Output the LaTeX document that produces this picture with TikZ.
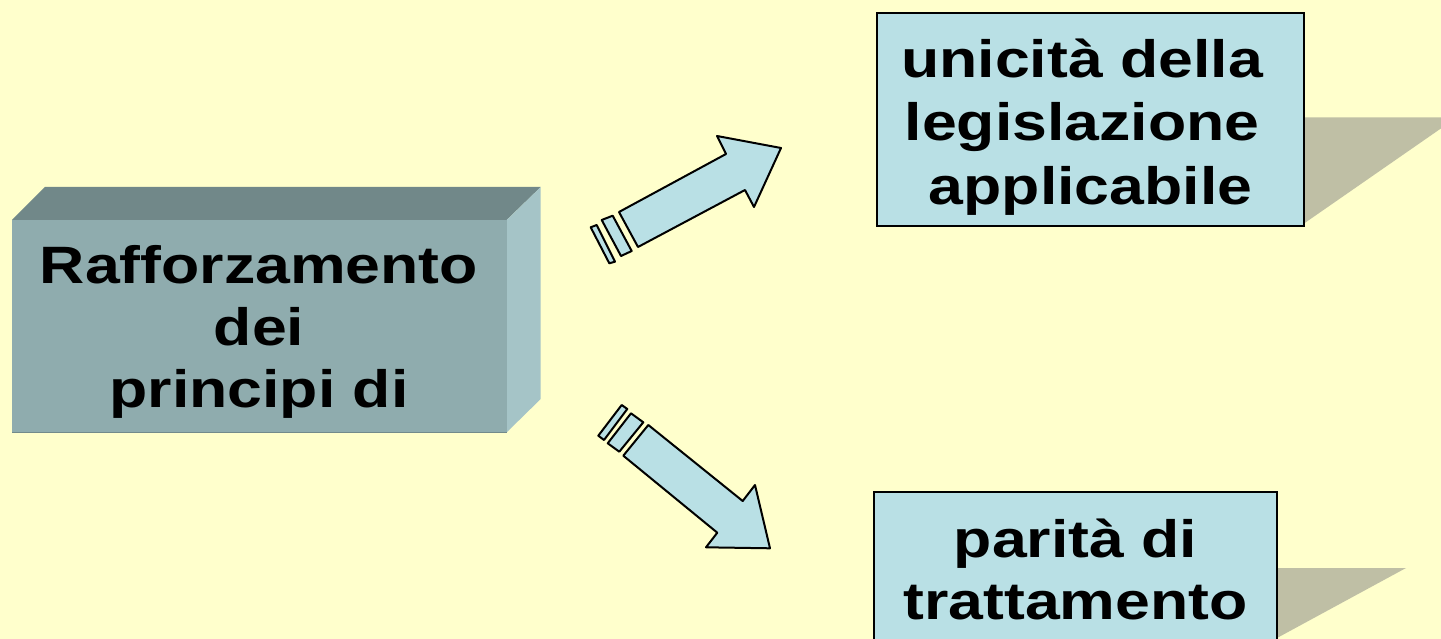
\documentclass[tikz,border=0pt]{standalone}
\usepackage{fontspec}
\newfontfamily\arialx[FakeStretch=1.19]{Liberation Sans}
\definecolor{bg}{HTML}{FFFFCC}
\definecolor{lblue}{HTML}{B9E0E5}
\definecolor{shade}{HTML}{BFBFA5}
\definecolor{frontc}{HTML}{8FACAE}
\definecolor{topc}{HTML}{718889}
\definecolor{sidec}{HTML}{A5C4C7}
\tikzset{
  txt/.style={font=\arialx\bfseries\fontsize{52.6}{62}\selectfont, align=center, inner sep=0pt, text=black},
  bluebox/.style={draw=black, line width=2pt, fill=lblue, inner sep=0pt},
  blockarrow/.style={draw=black, line width=2pt, line join=round, fill=lblue},
  shadowshape/.style={fill=shade, draw=none},
}
\begin{document}
\begin{tikzpicture}[x=1pt,y=-1pt]
\useasboundingbox (0,0) rectangle (1441,639);
\clip (0,0) rectangle (1441,639);
\fill[bg] (0,0) rectangle (1441,639);
% left 3D box
\fill[topc] (12,220) -- (45,187) -- (540.7,187) -- (506.7,220) -- cycle;
\fill[sidec] (506.7,220) -- (540.7,187) -- (540.7,399) -- (506.7,432.3) -- cycle;
\fill[frontc] (12,220) rectangle (506.7,432.3);
\draw[line width=1pt, color=black!20!frontc] (12,432) -- (506.7,432);
\node[txt] (src) at (259,331.7) {Rafforzamento\\dei\\principi di};
% shadows
\fill[shadowshape] (1304,117.3) -- (1457,117.3) -- (1304,223.5) -- cycle;
\fill[shadowshape] (1277,568) -- (1406,568) -- (1277,638) -- (1277,660) -- cycle;
% target boxes
\node[bluebox, txt, font=\arialx\bfseries\fontsize{52.6}{63.5}\selectfont, minimum width=427pt, minimum height=213pt] (uni) at (1090.5,119.2)
  {\rule{0pt}{54pt}unicità della\rule{17pt}{0pt}\\legislazione\rule{17pt}{0pt}\\applicabile};
\node[bluebox, txt, minimum width=403pt, minimum height=153.4pt] (par) at (1075.5,569)
  {parità di\\trattamento};
% upper arrow
\draw[blockarrow] (638,247) -- (745,190) -- (754,207) -- (781,148) -- (717,136) -- (726,154) -- (619,212) -- cycle;
\draw[blockarrow] (601.7,220) -- (612.7,215.7) -- (631.7,251) -- (621,256) -- cycle;
\draw[blockarrow] (590.7,227.3) -- (596.7,225) -- (615,261.7) -- (609.3,263.3) -- cycle;
% lower arrow
\draw[blockarrow] (648.3,425) -- (742.7,501) -- (755,485) -- (770,548.3) -- (706,547.3) -- (717.3,532.7) -- (623.3,455.7) -- cycle;
\draw[blockarrow] (631,413.3) -- (643.3,422.3) -- (619.3,451.7) -- (607.7,443.3) -- cycle;
\draw[blockarrow] (621.7,405) -- (627.3,409) -- (604,440) -- (598.3,435.7) -- cycle;
\end{tikzpicture}
\end{document}
